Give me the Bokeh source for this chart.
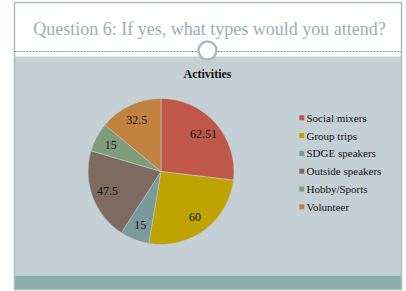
import numpy as np
from bokeh.plotting import figure
from bokeh.models import Range1d, ColumnDataSource
from bokeh.core.properties import value
from bokeh.embed import file_html
from bokeh.resources import INLINE

categories = ["Social mixers", "Group trips", "SDGE speakers", "Outside speakers", "Hobby/Sports", "Volunteer"]
values = [62.51, 60, 15, 47.5, 15, 32.5]
labels = ["62.51", "60", "15", "47.5", "15", "32.5"]
colors = ["#C0584A", "#BFA300", "#7B9A9C", "#7D6B61", "#7E9D7B", "#C1823F"]

title_text = "Question 6: If yes, what types would you attend?"
chart_title = "Activities"

W, H = 406, 291
p = figure(width=W, height=H, output_backend="svg", toolbar_location=None,
           x_range=Range1d(0, W), y_range=Range1d(-H, 0),
           min_border=0, outline_line_color=None)
p.axis.visible = False
p.grid.visible = False
p.background_fill_color = "white"
p.border_fill_color = "white"

frame_col = "#A9BCBF"
# gray content area
p.quad(left=14, right=401, top=-56, bottom=-275, fill_color="#C5D0D6", line_color=None)
# teal bottom bar
p.quad(left=14, right=401, top=-275, bottom=-289, fill_color="#8BADAD", line_color=None)
# frame border
p.quad(left=14, right=401, top=-2, bottom=-289, fill_color=None, line_color=frame_col, line_width=1.5)
# dashed separator
p.segment(x0=[14, 217], y0=[-51, -51], x1=[197, 401], y1=[-51, -51],
          line_color="#7F8F93", line_dash="2 1", line_width=1)
# circle ornament
p.circle(x=[207], y=[-50], radius=9, fill_color="white", line_color=frame_col, line_width=2.5)

# title
p.text(x=[209], y=[-28], text=[title_text], text_font=value("Liberation Serif"),
       text_font_size="18px", text_color="#9AAFB4", text_align="center", text_baseline="middle")
p.text(x=[207], y=[-73], text=[chart_title], text_font=value("Liberation Serif"),
       text_font_size="12px", text_font_style="bold", text_color="#111111",
       text_align="center", text_baseline="middle")

# pie
vals = np.array(values, dtype=float)
frac = vals / vals.sum()
cum = np.concatenate([[0], np.cumsum(frac)])
start = np.pi / 2 - cum[1:] * 2 * np.pi
end = np.pi / 2 - cum[:-1] * 2 * np.pi
mid = (start + end) / 2
cx, cy, r = 160.5, -171, 73
src = ColumnDataSource(dict(start=start, end=end, color=colors, cat=categories,
                            lx=cx + 0.78 * r * np.cos(mid), ly=cy + 0.78 * r * np.sin(mid),
                            lab=labels))
p.wedge(x=cx, y=cy, radius=r, start_angle="start", end_angle="end",
        fill_color="color", line_color="#C5D0D6", line_width=0.5, source=src)
p.text(x="lx", y="ly", text="lab", source=src, text_font=value("Liberation Serif"),
       text_font_size="12px", text_color="#111111", text_align="center", text_baseline="middle")

# legend
ly = -(117.3 + 17.8 * np.arange(len(categories)))
lsrc = ColumnDataSource(dict(x=[301.3] * len(categories), y=ly, color=colors, cat=categories,
                             tx=[306] * len(categories)))
p.rect(x="x", y="y", width=5, height=5, fill_color="color", line_color=None, source=lsrc)
p.text(x="tx", y="y", text="cat", source=lsrc, text_font=value("Liberation Serif"),
       text_font_size="11px", text_color="#111111", text_align="left", text_baseline="middle")

open("out.html", "w").write(file_html(p, INLINE))
